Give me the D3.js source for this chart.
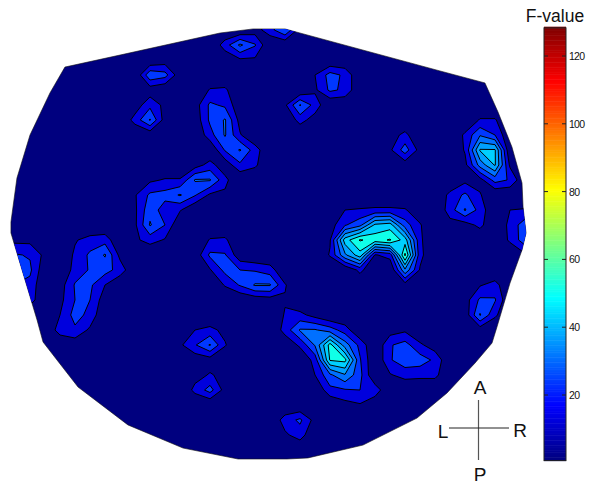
<!DOCTYPE html>
<html><head><meta charset="utf-8">
<script src="https://cdn.jsdelivr.net/npm/d3@7/dist/d3.min.js"></script>
<style>html,body{margin:0;background:#fff}svg{display:block}text{font-family:"Liberation Sans",Arial,sans-serif;fill:#111}</style>
</head><body><svg id="c" width="590" height="485"></svg>
<script>
// grid: 37 columns x 33 rows of F-value samples; each patch = [col, row, values]; the rest is background
const gridCols = 37, gridRows = 33;
const patchTopCentre = [15, 3, [[15,32,21,0],[2,8,8,3]]];
const patchTopEdge = [17, 1, [[5,16,30,5],[5,16,30,5]]];
const patchFrontLeftA = [9, 4, [[0,0,4,0],[0,28,24,3],[0,4,0,0]]];
const patchFrontLeftB = [8, 7, [[0,4,17,7],[0,14,31,5],[0,0,2,0]]];
const patchArc = [13, 6, [[0,11,12,0,0,0],[5,22,18,2,0,0],[3,22,31,6,0,0],[0,16,31,11,0,0],[0,0,21,31,15,0],[0,0,3,18,12,0]]];
const patchCentreDot = [19, 7, [[8,31,16],[0,14,5]]];
const patchFrontDot = [21, 5, [[10,24,18],[8,22,18]]];
const patchRightDot = [26, 9, [[5,13,0],[8,25,6],[0,4,0]]];
const patchRightPeak = [31, 8, [[0,11,11,0],[12,29,20,0],[11,51,51,0],[7,34,51,8],[0,6,24,19]]];
const patchRightMid = [30, 12, [[0,7,0],[13,22,11],[15,31,16],[6,5,13]]];
const patchRightEdge = [34, 14, [[10,11,11],[13,26,26],[12,26,26],[0,8,8]]];
const patchRightLow = [31, 19, [[0,9,14],[5,22,21],[3,31,12],[0,4,0]]];
const patchTriangle = [26, 22, [[5,8,0,0],[19,24,12,4],[19,26,25,18],[9,14,13,13]]];
const patchLowerPeak = [18, 21, [[0,11,13,6,0,0,0,0,0],[0,14,31,31,25,15,0,0,0],[0,2,12,31,64,35,17,0,0],[0,0,0,14,61,63,21,0,0],[0,0,0,10,28,39,23,0,0],[0,0,0,0,17,19,20,16,0],[0,0,0,0,0,6,9,2,0]]];
const patchSausage = [13, 16, [[0,11,12,0,0,0,0,0],[3,22,21,3,0,0,0,0],[0,9,23,20,19,15,0,0],[0,0,11,21,31,31,11,0],[0,0,0,0,3,5,9,0]]];
const patchElbow = [9, 11, [[0,0,0,0,5,14,3,0],[0,8,11,11,31,31,13,0],[9,22,24,31,21,8,8,0],[8,27,14,11,0,0,0,0],[8,31,20,0,0,0,0,0],[8,14,9,0,0,0,0,0]]];
const patchLeftBlob = [4, 16, [[0,9,14,16,0,0],[0,12,22,31,7,0],[0,14,21,24,16,0],[5,21,22,10,0,0],[7,20,20,4,0,0],[10,24,17,0,0,0],[15,18,8,0,0,0],[0,3,0,0,0,0]]];
const patchLeftEdge = [0, 16, [[7,7,7,0],[21,21,19,7],[25,25,22,2],[20,20,17,0],[15,15,15,0]]];
const patchLowDotA = [12, 22, [[0,10,13,7],[8,19,31,11],[0,3,5,0]]];
const patchLowDotB = [13, 25, [[6,11,7],[13,24,6]]];
const patchBottomDot = [19, 28, [[15,22,6],[8,15,0]]];
const patchMainPeak = [22, 14, [[0,10,11,12,12,11,3,0],[5,19,27,52,55,25,11,0],[9,55,71,66,71,55,12,0],[11,38,56,9,14,72,13,0],[0,0,13,0,0,38,9,0],[0,0,0,0,0,5,0,0]]];
const patches = [patchTopCentre,patchTopEdge,patchFrontLeftA,patchFrontLeftB,patchArc,patchCentreDot,patchFrontDot,patchRightDot,patchRightPeak,patchRightMid,patchRightEdge,patchRightLow,patchTriangle,patchLowerPeak,patchSausage,patchElbow,patchLeftBlob,patchLeftEdge,patchLowDotA,patchLowDotB,patchBottomDot,patchMainPeak];

const contourLevels = [10,20,30,40,50,60,70];
const bandColors = ["#0000dd","#0038ff","#0070ff","#00a0ff","#00d0ff","#10ffe8","#70ff90"];
const backgroundColor = "#00007f";

// head outline in grid units (col, row)
const headCols = [4.33,8,14.67,16.87,19,29.33,32.33,33.2,34.13,34.8,34.87,35.07,34.8,34,33.13,32.8,31.67,29.8,27.8,24.2,20.53,19.13,15.87,12.2,8.53,5.2,3.8,2.87,2.47,0.73,0.73,1.13,2,3.33];
const headRows = [4.47,3.67,2.2,1.93,1.93,4.73,5.53,7.47,9.8,12.2,13.8,15.53,16.67,18.87,21.8,22.87,24.2,26.2,27.87,29.67,30.53,30.6,30.6,29.87,28.33,25.8,24,22.8,21.33,15.53,14.8,11.87,9,6.2];

const colorbarTicks = [20,40,60,80,100,120];
const colorbarTitle = "F-value";
const jetStops = ["#00007f","#0000ff","#007fff","#00ffff","#7fff7f","#ffff00","#ff7f00","#ff0000","#7f0000"];
const crossLabels = [["A",0,-1],["L",-1,0],["R",1,0],["P",0,1]];

const svg = d3.select("#c");
const xGrid = d3.scaleLinear().domain([0,1]).range([0,15]);
const yGrid = d3.scaleLinear().domain([0,1]).range([0,15]);

const grid = new Array(gridCols*gridRows).fill(0);
patches.forEach(([c0,r0,rows]) => rows.forEach((row,r) => row.forEach((v,c) => {
  const k = (r0+r)*gridCols + c0+c;
  grid[k] = Math.max(grid[k], v);
})));

const headPts = headCols.map((c,i) => [xGrid(c), yGrid(headRows[i])]);
const headLine = d3.line().curve(d3.curveLinearClosed)(headPts);
svg.append("clipPath").attr("id","head").append("path").attr("d",headLine);
svg.append("path").attr("d",headLine).attr("fill",backgroundColor).attr("stroke","#111").attr("stroke-width",0.6);

const contours = d3.contours().size([gridCols,gridRows]).thresholds(contourLevels)(grid);
const geo = d3.geoPath(d3.geoTransform({point(x,y){ this.stream.point(xGrid(x-0.5), yGrid(y-0.5)); }}));
svg.append("g").attr("clip-path","url(#head)").selectAll("path").data(contours).join("path")
  .attr("d",geo).attr("fill",(d,i)=>bandColors[i]).attr("stroke","#000").attr("stroke-width",1).attr("stroke-linejoin","miter");

// colorbar
const yBar = d3.scaleLinear().domain([20,120]).range([395,56]);
const barDomain = [0.65,128.3];
const jet = d3.scaleLinear().domain(d3.range(9).map(i=>barDomain[0]+(barDomain[1]-barDomain[0])*i/8)).range(jetStops);
const barLeft = 544, barWidth = 22;
const barValues = d3.range(barDomain[0],barDomain[1],0.5);
svg.append("g").selectAll("rect").data(barValues).join("rect")
  .attr("x",barLeft).attr("width",barWidth)
  .attr("y",d=>yBar(d+0.5)).attr("height",d=>yBar(d)-yBar(d+0.5)+0.5).attr("fill",d=>jet(d));
svg.append("rect").attr("x",barLeft).attr("width",barWidth).attr("y",yBar(barDomain[1])).attr("height",yBar(barDomain[0])-yBar(barDomain[1]))
  .attr("fill","none").attr("stroke","#222").attr("stroke-width",1);
const tickG = svg.append("g").selectAll("g").data(colorbarTicks).join("g");
tickG.append("line").attr("x1",barLeft).attr("x2",barLeft+4).attr("y1",d=>yBar(d)).attr("y2",d=>yBar(d)).attr("stroke","#222");
tickG.append("line").attr("x1",barLeft+barWidth-4).attr("x2",barLeft+barWidth).attr("y1",d=>yBar(d)).attr("y2",d=>yBar(d)).attr("stroke","#222");
tickG.append("text").attr("x",barLeft+barWidth+3).attr("y",d=>yBar(d)+4).attr("font-size",10.5).attr("textLength",d=>d>=100?16:11).text(d=>d);
svg.append("text").attr("x",555).attr("y",22).attr("text-anchor","middle").attr("font-size",17.5).text(colorbarTitle);

// orientation cross
const crossX = d3.scaleLinear().domain([-1,1]).range([449,509]);
const crossY = d3.scaleLinear().domain([-1,1]).range([400,460]);
svg.append("line").attr("x1",crossX(0)-0.5).attr("x2",crossX(0)-0.5).attr("y1",crossY(-1)).attr("y2",crossY(1)).attr("stroke","#555").attr("stroke-width",1.2);
svg.append("line").attr("x1",crossX(-1)).attr("x2",crossX(1)).attr("y1",crossY(0)-2).attr("y2",crossY(0)-2).attr("stroke","#222").attr("stroke-width",1);
const labelOff = {A:[0,-6],L:[-6,10],R:[11,9],P:[0,21]};
svg.append("g").selectAll("text").data(crossLabels).join("text")
  .attr("x",d=>crossX(d[1])+labelOff[d[0]][0]+(d[1]===0?1:0))
  .attr("y",d=>crossY(d[2])+labelOff[d[0]][1]-(d[2]===0?2:0))
  .attr("text-anchor","middle").attr("font-size",19).text(d=>d[0]);
</script></body></html>
